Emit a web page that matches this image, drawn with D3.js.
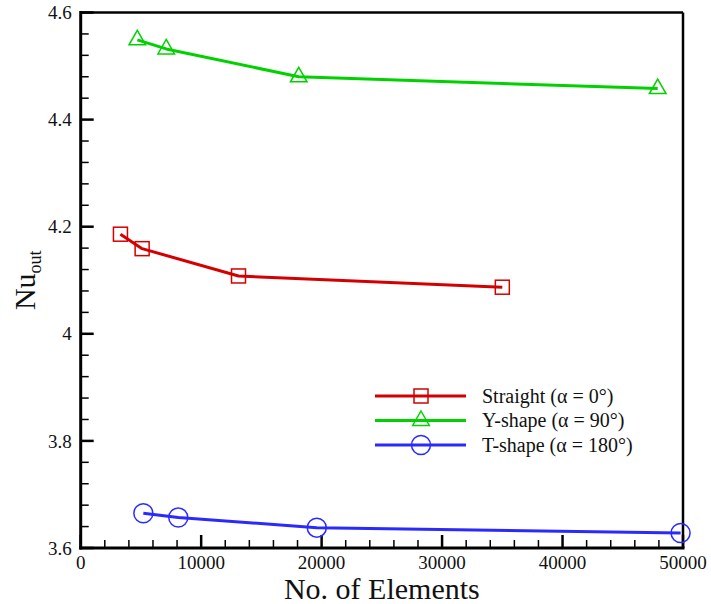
<!DOCTYPE html>
<html>
<head>
<meta charset="utf-8">
<script src="https://cdn.jsdelivr.net/npm/d3@7"></script>
<style>
  body { margin: 0; background: #fff; }
  text { font-family: "Liberation Serif", "DejaVu Serif", serif; fill: #111; }
</style>
</head>
<body>
<svg width="711" height="604"></svg>
<script>
// data
var straightX = [3300, 5100, 13100, 35000];
var straightY = [4.186, 4.159, 4.108, 4.087];
var yshapeX = [4700, 7100, 18100, 47900];
var yshapeY = [4.549, 4.532, 4.480, 4.458];
var tshapeX = [5200, 8100, 19600, 49800];
var tshapeY = [3.665, 3.657, 3.638, 3.628];
var seriesNames = ["Straight (\u03b1 = 0\u00b0)", "Y-shape (\u03b1 = 90\u00b0)", "T-shape (\u03b1 = 180\u00b0)"];
var xTicks = [0, 10000, 20000, 30000, 40000, 50000];
var yTicks = [3.6, 3.8, 4, 4.2, 4.4, 4.6];

var svg = d3.select("svg");
var svgDims = {width: +svg.attr("width"), height: +svg.attr("height")};
var margin = {top: 12.5, right: 28, bottom: 56, left: 80.7};
var areaDims = {width: svgDims.width - margin.left - margin.right,
                height: svgDims.height - margin.top - margin.bottom};
var g = svg.append("g").attr("transform", "translate(" + margin.left + "," + margin.top + ")");

var x = d3.scaleLinear().domain([0, 50000]).range([0, areaDims.width]);
var y = d3.scaleLinear().domain([3.6, 4.6]).range([areaDims.height, 0]);

// minor ticks
var xMinor = d3.range(0, 50001, 2000).filter(function(v) { return v % 10000 != 0; });
var yMinor = d3.range(0, 26).map(function(i) { return 3.6 + i * 0.04; })
  .filter(function(v, i) { return i % 5 != 0; });

g.selectAll(".xminor").data(xMinor).enter().append("line")
  .attr("x1", function(d) { return x(d); }).attr("x2", function(d) { return x(d); })
  .attr("y1", areaDims.height).attr("y2", areaDims.height - 8)
  .attr("stroke", "#000").attr("stroke-width", 1.5);
g.selectAll(".xmajor").data(xTicks).enter().append("line")
  .attr("x1", function(d) { return x(d); }).attr("x2", function(d) { return x(d); })
  .attr("y1", areaDims.height).attr("y2", areaDims.height - 13)
  .attr("stroke", "#000").attr("stroke-width", 2.5);
g.selectAll(".yminor").data(yMinor).enter().append("line")
  .attr("y1", function(d) { return y(d); }).attr("y2", function(d) { return y(d); })
  .attr("x1", 0).attr("x2", 8)
  .attr("stroke", "#000").attr("stroke-width", 1.5);
g.selectAll(".ymajor").data(yTicks).enter().append("line")
  .attr("y1", function(d) { return y(d); }).attr("y2", function(d) { return y(d); })
  .attr("x1", 0).attr("x2", 13)
  .attr("stroke", "#000").attr("stroke-width", 2.5);

// tick labels
g.selectAll(".xlab").data(xTicks).enter().append("text")
  .attr("x", function(d) { return x(d); })
  .attr("y", areaDims.height + 21)
  .attr("text-anchor", "middle")
  .style("font-size", "19px")
  .text(function(d) { return d; });
g.selectAll(".ylab").data(yTicks).enter().append("text")
  .attr("x", -9)
  .attr("y", function(d) { return y(d); })
  .attr("dy", "0.35em")
  .attr("text-anchor", "end")
  .style("font-size", "19px")
  .text(function(d) { return +d.toFixed(1); });

// frame
g.append("line").attr("x1", 0).attr("x2", areaDims.width).attr("y1", 0).attr("y2", 0)
  .attr("stroke", "#000").attr("stroke-width", 2.5);
g.append("line").attr("x1", areaDims.width).attr("x2", areaDims.width).attr("y1", 0).attr("y2", areaDims.height)
  .attr("stroke", "#000").attr("stroke-width", 2.5);
g.append("line").attr("x1", 0).attr("x2", 0).attr("y1", -1.5).attr("y2", areaDims.height + 1.5)
  .attr("stroke", "#000").attr("stroke-width", 3);
g.append("line").attr("x1", -1.5).attr("x2", areaDims.width + 1.5).attr("y1", areaDims.height).attr("y2", areaDims.height)
  .attr("stroke", "#000").attr("stroke-width", 3);

// axis titles
svg.append("text")
  .attr("x", margin.left + areaDims.width / 2)
  .attr("y", 599)
  .attr("text-anchor", "middle")
  .style("font-size", "30px")
  .text("No. of Elements");
var yt = svg.append("text")
  .attr("transform", "translate(35," + (margin.top + areaDims.height / 2) + ") rotate(-90)")
  .attr("text-anchor", "middle")
  .style("font-size", "30px");
yt.append("tspan").text("Nu");
yt.append("tspan").attr("dy", 6).style("font-size", "18px").text("out");

var colors = ["#d40000", "#00d200", "#2a2aff"];
var series = [
  {xs: straightX, ys: straightY, shape: "square"},
  {xs: yshapeX, ys: yshapeY, shape: "triangle"},
  {xs: tshapeX, ys: tshapeY, shape: "circle"}
];

var line = d3.line()
  .x(function(d) { return x(d[0]); })
  .y(function(d) { return y(d[1]); });

function marker(sel, shape, color) {
  if (shape == "square") {
    sel.append("rect").attr("x", -7).attr("y", -7).attr("width", 14).attr("height", 14);
  } else if (shape == "triangle") {
    sel.append("path").attr("d", "M0,-9.5L8.3,5L-8.3,5Z");
  } else {
    sel.append("circle").attr("r", 9.5);
  }
  sel.selectAll("rect,path,circle")
    .attr("fill", "none").attr("stroke", color).attr("stroke-width", 1.5);
}

series.forEach(function(s, k) {
  var pts = s.xs.map(function(v, i) { return [v, s.ys[i]]; });
  g.append("path").datum(pts)
    .attr("d", line)
    .attr("fill", "none")
    .attr("stroke", colors[k])
    .attr("stroke-width", 3)
    .attr("stroke-linejoin", "round");
  pts.forEach(function(p) {
    var m = g.append("g").attr("transform", "translate(" + x(p[0]) + "," + y(p[1]) + ")");
    marker(m, s.shape, colors[k]);
  });
});

// legend
var legend = svg.append("g").attr("transform", "translate(375,396)");
series.forEach(function(s, k) {
  var row = legend.append("g").attr("transform", "translate(0," + (k * 24.5) + ")");
  row.append("line").attr("x1", 0).attr("x2", 91).attr("y1", 0).attr("y2", 0)
    .attr("stroke", colors[k]).attr("stroke-width", 3);
  var m = row.append("g").attr("transform", "translate(46,0)");
  marker(m, s.shape, colors[k]);
  row.append("text").attr("x", 107).attr("y", 0).attr("dy", "0.33em")
    .style("font-size", "20px").text(seriesNames[k]);
});
</script>
</body>
</html>
